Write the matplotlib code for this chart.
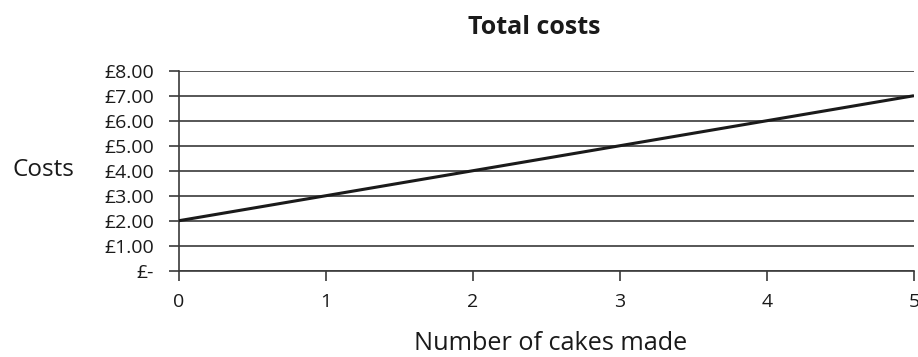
import matplotlib
matplotlib.use("Agg")
import matplotlib.pyplot as plt
from matplotlib.ticker import FuncFormatter

cakes = [0, 1, 2, 3, 4, 5]
total_costs = [2.0, 3.0, 4.0, 5.0, 6.0, 7.0]
y_ticks = [0, 1, 2, 3, 4, 5, 6, 7, 8]

plt.rcParams['font.family'] = ['Open Sans', 'DejaVu Sans']

fig = plt.figure(figsize=(9.18, 3.57), dpi=100)
ax = fig.add_axes([179/918, 1 - 270.7/357, (914-179)/918, (270.7-70.7)/357])

ax.plot(cakes, total_costs, color='#1a1a1a', lw=2.2, zorder=3, solid_capstyle='butt')

ax.set_xlim(0, 5)
ax.set_ylim(0, 8)
ax.set_xticks(cakes)
ax.set_yticks(y_ticks)

def fmt(v, pos):
    return "£-" if v == 0 else f"£{v:.2f}"
ax.yaxis.set_major_formatter(FuncFormatter(fmt))

ax.grid(axis='y', color='#3a3a3a', lw=1.2)
ax.set_axisbelow(True)
for s in ['top', 'right']:
    ax.spines[s].set_visible(False)
for s in ['left', 'bottom']:
    ax.spines[s].set_color('#3a3a3a')
    ax.spines[s].set_linewidth(1.2)

ax.tick_params(axis='y', direction='out', length=7, width=1.2, color='#3a3a3a',
               labelsize=14, pad=11, labelcolor='#1a1a1a')
ax.tick_params(axis='x', direction='out', length=7, width=1.2, color='#3a3a3a',
               labelsize=14, pad=9, labelcolor='#1a1a1a')

fig.text(534/918, 1 - 34/357, "Total costs", fontsize=18, fontweight='bold',
         ha='center', va='baseline', color='#1a1a1a')
fig.text(551/918, 1 - 350/357, "Number of cakes made", fontsize=18.2,
         ha='center', va='baseline', color='#1a1a1a')
fig.text(12/918, 1 - 170/357, "Costs", fontsize=17.5, va='center', ha='left', color='#1a1a1a')

fig.savefig("out.png", dpi=100)
